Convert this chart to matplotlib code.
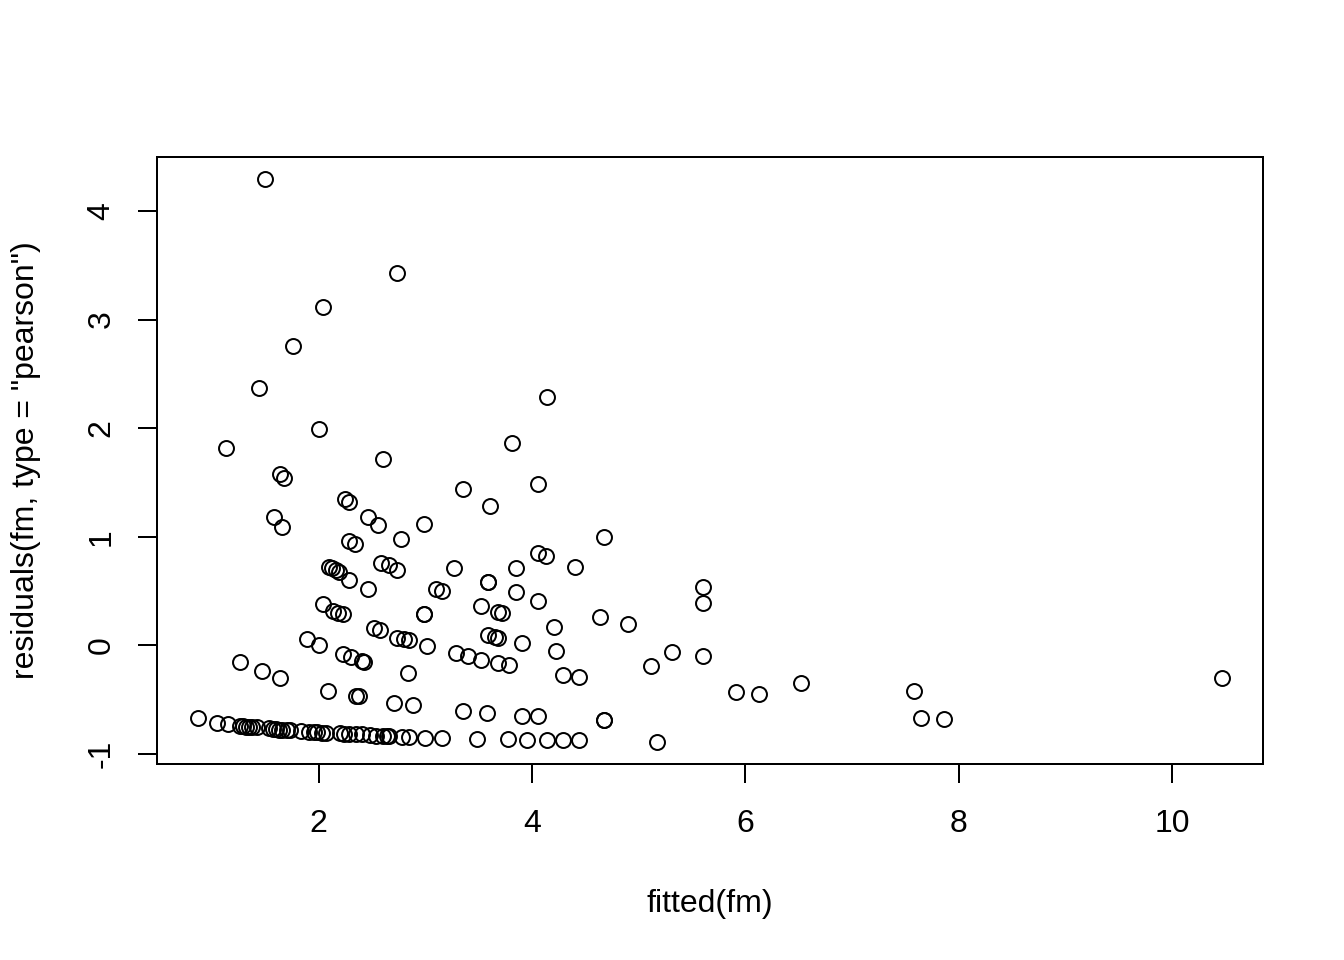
import matplotlib
matplotlib.use("Agg")
from matplotlib import pyplot as plt

plt.rcParams['font.family'] = ['Liberation Sans', 'DejaVu Sans']

# points: fitted values and pearson residuals
fitted = [
    1.50, 2.74, 2.04, 1.76, 1.44, 4.14, 1.13, 2.00, 3.81, 2.60,
    1.64, 1.68, 4.06, 3.35, 2.25, 2.29, 3.61, 1.58, 2.46, 1.66,
    2.56, 2.99, 2.77, 4.68, 2.29, 2.34, 4.06, 4.13, 2.59, 2.66,
    2.74, 2.10, 2.13, 2.16, 2.19, 3.27, 3.85, 4.40, 2.29, 5.60,
    2.46, 3.10, 3.16, 3.85, 3.59, 3.59, 4.06, 5.60, 2.04, 2.14,
    2.18, 2.23, 3.52, 3.68, 3.72, 2.99, 2.99, 4.64, 4.90, 2.52,
    2.58, 4.21, 2.74, 2.80, 2.85, 3.59, 3.65, 3.68, 1.89, 2.00,
    3.02, 3.91, 4.23, 5.31, 5.60, 2.23, 2.30, 2.41, 2.43, 3.29,
    3.40, 3.52, 3.68, 3.79, 5.12, 1.26, 1.47, 1.64, 2.84, 4.29,
    4.44, 6.52, 10.47, 2.09, 2.35, 2.38, 5.91, 6.13, 7.58, 2.71,
    2.89, 3.35, 3.58, 3.91, 4.06, 4.68, 4.68, 7.65, 7.86,
    # zero-count band
    0.87, 1.05, 1.15, 1.26, 1.29, 1.32, 1.35, 1.38, 1.42, 1.54,
    1.57, 1.60, 1.63, 1.66, 1.70, 1.73, 1.84, 1.91, 1.96, 1.99,
    2.03, 2.07, 2.20, 2.24, 2.29, 2.35, 2.41, 2.48, 2.54, 2.60,
    2.64, 2.66, 2.78, 2.85, 3.00, 3.16, 3.49, 3.78, 3.95, 4.14,
    4.29, 4.44, 5.17,
]
resid = [
    4.29, 3.43, 3.12, 2.76, 2.37, 2.29, 1.82, 1.99, 1.86, 1.72,
    1.58, 1.54, 1.49, 1.44, 1.35, 1.32, 1.28, 1.18, 1.18, 1.09,
    1.11, 1.12, 0.98, 1.00, 0.96, 0.93, 0.85, 0.82, 0.76, 0.74,
    0.69, 0.72, 0.71, 0.69, 0.68, 0.71, 0.71, 0.72, 0.60, 0.54,
    0.52, 0.52, 0.50, 0.49, 0.58, 0.58, 0.41, 0.39, 0.38, 0.32,
    0.30, 0.29, 0.36, 0.31, 0.30, 0.29, 0.29, 0.26, 0.20, 0.16,
    0.14, 0.17, 0.07, 0.06, 0.05, 0.10, 0.08, 0.07, 0.06, 0.00,
    -0.01, 0.02, -0.05, -0.06, -0.10, -0.08, -0.11, -0.14, -0.15, -0.07,
    -0.10, -0.13, -0.16, -0.18, -0.19, -0.15, -0.24, -0.30, -0.25, -0.27,
    -0.29, -0.35, -0.30, -0.42, -0.47, -0.47, -0.43, -0.45, -0.42, -0.53,
    -0.55, -0.60, -0.62, -0.65, -0.65, -0.69, -0.69, -0.67, -0.68,
    # zero-count band
    -0.67, -0.71, -0.72, -0.74, -0.745, -0.75, -0.75, -0.755, -0.755, -0.765,
    -0.77, -0.77, -0.775, -0.775, -0.78, -0.78, -0.79, -0.795, -0.80, -0.80,
    -0.805, -0.805, -0.81, -0.815, -0.815, -0.82, -0.82, -0.825, -0.83, -0.83,
    -0.83, -0.835, -0.84, -0.84, -0.85, -0.855, -0.86, -0.865, -0.87, -0.87,
    -0.875, -0.875, -0.885,
]
xticks = [2, 4, 6, 8, 10]
yticks = [-1, 0, 1, 2, 3, 4]

fig = plt.figure(figsize=(7, 5), dpi=192)
ax = fig.add_axes([157/1344, 1 - 764/960, (1263 - 157)/1344, (764 - 157)/960])

ax.plot(fitted, resid, linestyle='none', marker='o', markersize=5.6,
        markerfacecolor='none', markeredgecolor='black', markeredgewidth=0.75)
ax.margins(x=0.04, y=0.04)

ax.set_xticks(xticks)
ax.set_yticks(yticks)
ax.set_xticklabels([str(t) for t in xticks])
ax.set_yticklabels([str(t) for t in yticks], rotation=90, va='center')
ax.tick_params(axis='both', direction='out', length=7.2, width=0.75,
               labelsize=12)
ax.tick_params(axis='x', pad=9.5)
ax.tick_params(axis='y', pad=8)
for s in ax.spines.values():
    s.set_linewidth(0.75)

ax.set_xlabel('fitted(fm)', fontsize=12, labelpad=19)
ax.set_ylabel('residuals(fm, type = "pearson")', fontsize=12, labelpad=17)

fig.savefig('out.png', dpi=192)
